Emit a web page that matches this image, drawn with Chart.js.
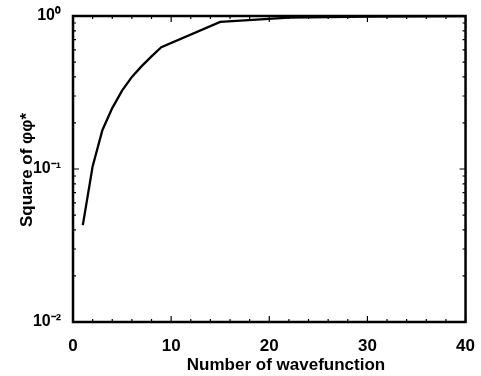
<!DOCTYPE html>
<html>
<head>
<meta charset="utf-8">
<script src="https://cdn.jsdelivr.net/npm/chart.js@4"></script>
<style>
  html, body { margin: 0; padding: 0; background: #fff; }
  #wrap { width: 481px; height: 376px; }
</style>
</head>
<body>
<div id="wrap"><canvas id="myChart" width="481" height="376"></canvas></div>
<script>
// values
const waveNumbers = [1, 2, 3, 4, 5, 6, 7, 8, 9, 15, 22, 30, 40];
const squareValues = [0.043, 0.104, 0.18, 0.25, 0.325, 0.40, 0.47, 0.545, 0.625, 0.915, 0.975, 0.99, 1.0];

const yMajorTicks = [0.01, 0.1, 1];
const yTickLabels = ['10\u207B\u00B2', '10\u207B\u00B9', '10\u2070'];
const yMinorTicks = [0.02, 0.03, 0.04, 0.05, 0.06, 0.07, 0.08, 0.09, 0.2, 0.3, 0.4, 0.5, 0.6, 0.7, 0.8, 0.9];
const xMajorTicks = [0, 10, 20, 30, 40];
const xMinorTicks = [2, 4, 6, 8, 12, 14, 16, 18, 22, 24, 26, 28, 32, 34, 36, 38];

const xTitle = 'Number of wavefunction';
const yTitle = 'Square of \u03C6\u03C6*';

const fontFamily = '"Liberation Sans", Arial, sans-serif';

// frame, inward ticks and axis titles
const framePlugin = {
    id: 'frame',
    afterDraw(chart) {
        const ctx = chart.ctx;
        const a = chart.chartArea;
        const xs = chart.scales.x;
        const ys = chart.scales.y;
        ctx.save();
        ctx.strokeStyle = '#000';
        ctx.lineWidth = 1.2;
        ctx.beginPath();
        yMinorTicks.forEach(v => {
            const py = ys.getPixelForValue(v);
            ctx.moveTo(a.left, py); ctx.lineTo(a.left + 3, py);
            ctx.moveTo(a.right, py); ctx.lineTo(a.right - 3, py);
        });
        yMajorTicks.forEach(v => {
            const py = ys.getPixelForValue(v);
            ctx.moveTo(a.left, py); ctx.lineTo(a.left + 6, py);
            ctx.moveTo(a.right, py); ctx.lineTo(a.right - 6, py);
        });
        xMinorTicks.forEach(v => {
            const px = xs.getPixelForValue(v);
            ctx.moveTo(px, a.bottom); ctx.lineTo(px, a.bottom - 3);
            ctx.moveTo(px, a.top); ctx.lineTo(px, a.top + 3);
        });
        xMajorTicks.forEach(v => {
            const px = xs.getPixelForValue(v);
            ctx.moveTo(px, a.bottom); ctx.lineTo(px, a.bottom - 6);
            ctx.moveTo(px, a.top); ctx.lineTo(px, a.top + 6);
        });
        ctx.stroke();
        ctx.lineWidth = 2.5;
        ctx.strokeRect(a.left, a.top, a.right - a.left, a.bottom - a.top);

        // axis titles
        ctx.fillStyle = '#000';
        ctx.textAlign = 'center';
        ctx.textBaseline = 'middle';
        ctx.font = 'bold 17px ' + fontFamily;
        ctx.fillText(xTitle, 286, 365);
        ctx.translate(27, 170);
        ctx.rotate(-Math.PI / 2);
        ctx.font = 'bold 17px ' + fontFamily;
        ctx.fillText(yTitle, 0, 0);
        ctx.restore();
    }
};

const ctx = document.getElementById('myChart').getContext('2d');
const myChart = new Chart(ctx, {
    type: 'line',
    data: {
        datasets: [{
            data: waveNumbers.map((x, i) => ({x: x, y: squareValues[i]})),
            borderColor: '#000',
            borderWidth: 2.3,
            pointRadius: 0,
            fill: false,
            tension: 0
        }]
    },
    options: {
        responsive: false,
        animation: false,
        layout: {
            padding: {left: 0, right: 14, top: 16, bottom: 0}
        },
        plugins: {
            legend: {display: false},
            tooltip: {enabled: false}
        },
        scales: {
            x: {
                type: 'linear',
                min: 0,
                max: 40,
                grid: {display: false},
                border: {display: false},
                ticks: {
                    stepSize: 10,
                    color: '#000',
                    padding: 6,
                    maxRotation: 0,
                    font: {family: fontFamily, size: 17, weight: 'bold'}
                },
                afterFit: scale => { scale.height = 54; }
            },
            y: {
                type: 'logarithmic',
                min: 0.01,
                max: 1,
                grid: {display: false},
                border: {display: false},
                afterBuildTicks: scale => {
                    scale.ticks = yMajorTicks.map(v => ({value: v}));
                },
                ticks: {
                    color: '#000',
                    padding: 4,
                    font: {family: fontFamily, size: 16, weight: 'bold'},
                    callback: value => {
                        const i = yMajorTicks.indexOf(value);
                        return i >= 0 ? yTickLabels[i] : '';
                    }
                },
                afterFit: scale => { scale.width = 73; }
            }
        }
    },
    plugins: [framePlugin]
});
</script>
</body>
</html>
